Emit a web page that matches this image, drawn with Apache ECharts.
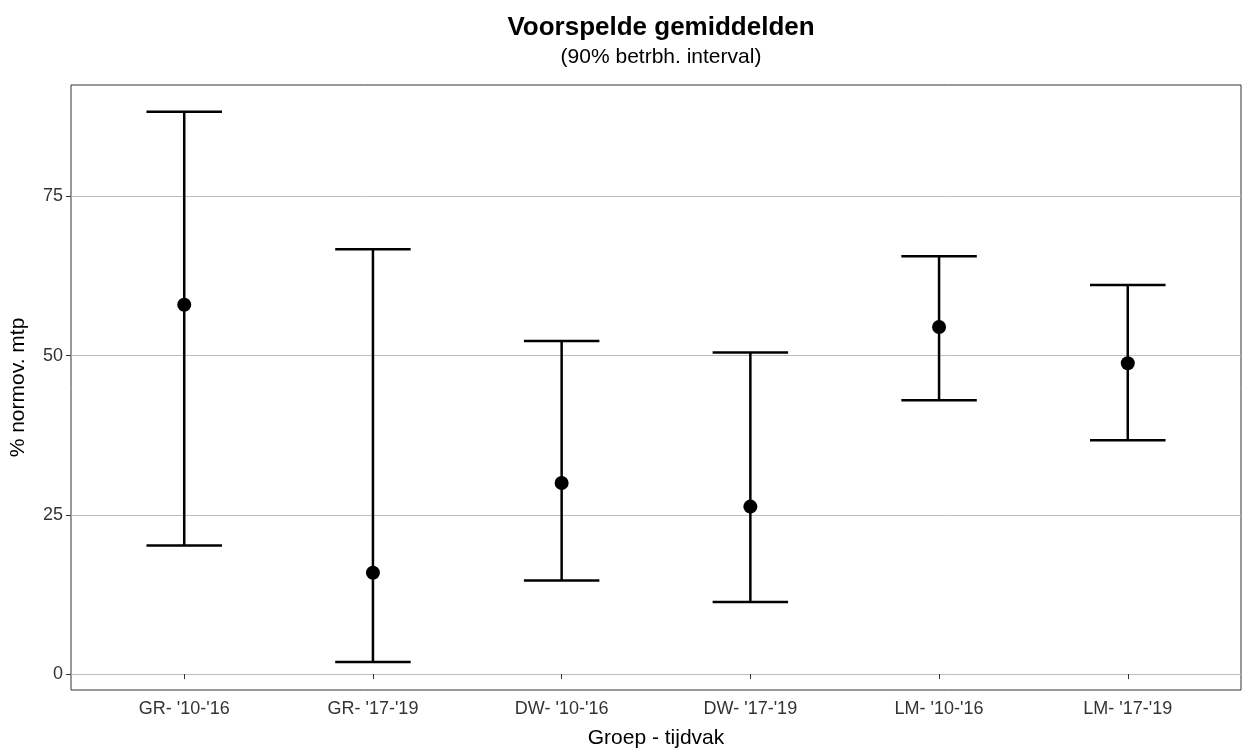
<!DOCTYPE html>
<html><head><meta charset="utf-8">
<script src="https://cdn.jsdelivr.net/npm/echarts@6/dist/echarts.min.js"></script>
<style>html,body{margin:0;background:#fff}#chart{width:1242px;height:754px}</style>
</head><body><div id="chart"></div>
<script>
var categories = ["GR- '10-'16", "GR- '17-'19", "DW- '10-'16", "DW- '17-'19", "LM- '10-'16", "LM- '17-'19"];
var means = [58.0, 15.9, 30.0, 26.3, 54.5, 48.8];
var lower = [20.2, 1.9, 14.7, 11.3, 43.0, 36.7];
var upper = [88.3, 66.7, 52.3, 50.5, 65.6, 61.1];

var myChart = echarts.init(document.getElementById('chart'));
var barData = categories.map(function (c, i) { return [i + 1, lower[i], upper[i]]; });
var pointData = categories.map(function (c, i) { return [i + 1, means[i]]; });
var font = 'Liberation Sans, Arial, sans-serif';

var option = {
    backgroundColor: '#ffffff',
    animation: false,
    title: {
        text: 'Voorspelde gemiddelden',
        subtext: '(90% betrbh. interval)',
        left: 656, textAlign: 'center', top: 10, itemGap: 6,
        textStyle: { fontFamily: font, fontSize: 26, fontWeight: 'bold', color: '#000' },
        subtextStyle: { fontFamily: font, fontSize: 21, color: '#000' }
    },
    grid: { left: 70, right: 1, top: 85, bottom: 61, show: true, borderColor: '#333', borderWidth: 1 },
    xAxis: {
        type: 'value', min: 0.4, max: 6.6, interval: 1,
        name: 'Groep - tijdvak', nameLocation: 'middle', nameGap: 38,
        nameTextStyle: { fontFamily: font, fontSize: 21, color: '#000' },
        axisLine: { show: false }, splitLine: { show: false },
        axisTick: { show: true, length: 5, lineStyle: { color: '#333' }, customValues: [1, 2, 3, 4, 5, 6] },
        axisLabel: {
            fontFamily: font, fontSize: 18, color: '#333', margin: 10,
            customValues: [1, 2, 3, 4, 5, 6],
            formatter: function (v) { return categories[Math.round(v) - 1] || ''; }
        }
    },
    yAxis: {
        type: 'value', min: -2.5, max: 92.5,
        name: '% normov. mtp', nameLocation: 'middle', nameGap: 42,
        nameTextStyle: { fontFamily: font, fontSize: 21, color: '#000' },
        axisLine: { show: false },
        axisTick: { show: true, length: 5, lineStyle: { color: '#333' }, customValues: [0, 25, 50, 75] },
        axisLabel: { fontFamily: font, fontSize: 18, color: '#333', customValues: [0, 25, 50, 75] },
        splitLine: { show: true, lineStyle: { color: '#bdbdbd', width: 1 } }
    },
    series: [{
        type: 'custom',
        data: barData,
        renderItem: function (params, api) {
            var x = api.value(0);
            var lo = api.coord([x, api.value(1)]);
            var hi = api.coord([x, api.value(2)]);
            var hw = api.size([0.4, 0])[0] / 2;
            var st = { stroke: '#000', lineWidth: 2.5 };
            return { type: 'group', children: [
                { type: 'line', shape: { x1: lo[0], y1: lo[1], x2: hi[0], y2: hi[1] }, style: st },
                { type: 'line', shape: { x1: lo[0] - hw, y1: lo[1], x2: lo[0] + hw, y2: lo[1] }, style: st },
                { type: 'line', shape: { x1: hi[0] - hw, y1: hi[1], x2: hi[0] + hw, y2: hi[1] }, style: st }
            ]};
        }
    }, {
        type: 'scatter', data: pointData, symbolSize: 14,
        itemStyle: { color: '#000', opacity: 1 }, z: 5
    }]
};
myChart.setOption(option);
</script></body></html>
